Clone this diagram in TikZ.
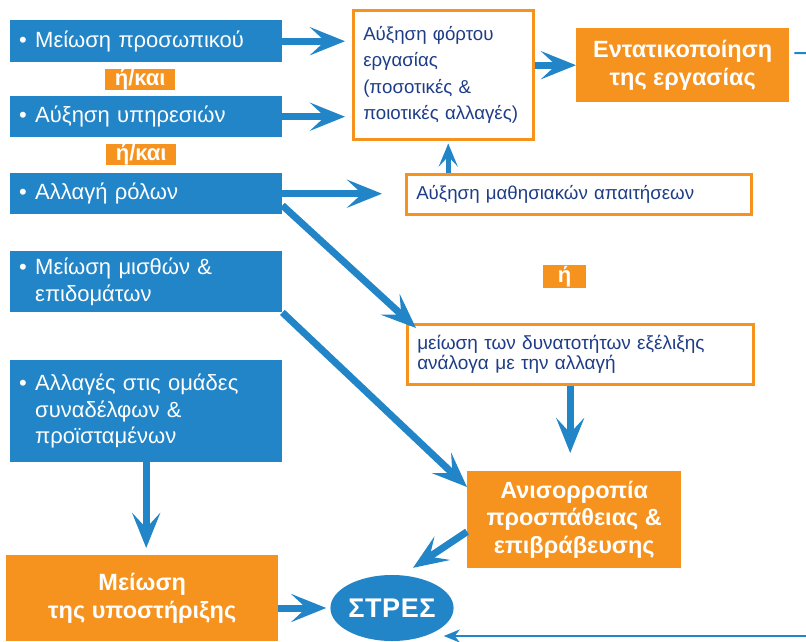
\documentclass[tikz,border=0pt]{standalone}
\usepackage{fontspec}
\setmainfont{Liberation Sans}
\usepackage{tikz}
\usetikzlibrary{arrows.meta, calc, shapes.geometric}
\definecolor{stressblue}{HTML}{2185C8}
\definecolor{stressorange}{HTML}{F6921E}
\definecolor{navytext}{HTML}{1F3D87}
\newcommand{\bul}{\makebox[16pt][l]{\textbullet}}
\newcommand{\ind}{\hspace*{16pt}}

\tikzset{
  cause/.style={fill=stressblue, text=white, anchor=north west, align=left,
    inner xsep=9pt, inner ysep=0pt, text width=254pt,
    font=\fontsize{22}{26.5}\selectfont},
  effect/.style={draw=stressorange, line width=2.5pt, fill=white, text=navytext,
    anchor=north west, align=left, inner xsep=10pt, inner ysep=0pt,
    font=\fontsize{18.7}{26.5}\selectfont},
  result/.style={fill=stressorange, text=white, anchor=north west, align=center,
    inner sep=0pt, font=\bfseries\fontsize{23.5}{27.5}\selectfont},
  tag/.style={fill=stressorange, text=white, anchor=north west, inner sep=0pt,
    font=\bfseries\fontsize{22}{22}\selectfont},
  flow/.style={draw=stressblue, line width=7pt,
    -{Stealth[length=35pt,width=28pt,inset=15pt]}},
  flowsmall/.style={draw=stressblue, line width=4.5pt,
    -{Stealth[length=23pt,width=19pt,inset=10pt]}},
  feed/.style={draw=stressblue, line width=2pt}
}

\begin{document}
\begin{tikzpicture}[x=1pt, y=-1pt]
  \useasboundingbox (0,0) rectangle (806,641);

  % Αιτίες
  \node[cause, minimum height=42pt] (staff) at (10,20) {\bul Μείωση προσωπικού};
  \node[cause, minimum height=41pt] (services) at (10,96) {\bul Αύξηση υπηρεσιών};
  \node[cause, minimum height=41pt] (roles) at (10,173) {\bul Αλλαγή ρόλων};
  \node[cause, minimum height=61pt] (salary) at (10,251)
    {\bul Μείωση μισθών \&\\\ind επιδομάτων};
  \node[cause, minimum height=102pt] (teams) at (10,360)
    {\bul Αλλαγές στις ομάδες\\\ind συναδέλφων \&\\\ind προϊσταμένων};

  % ή/και
  \node[tag, minimum width=70pt, minimum height=21pt] (or1) at (105,69) {ή/και};
  \node[tag, minimum width=70pt, minimum height=21pt] (or2) at (106,144) {ή/και};
  \node[tag, minimum width=43pt, minimum height=23pt] (or3) at (543,265) {ή};

  % Επιπτώσεις
  \node[effect, text width=160pt, minimum height=129pt] (load) at (352,9)
    {Αύξηση φόρτου\\εργασίας\\(ποσοτικές \&\\ποιοτικές αλλαγές)};
  \node[effect, text width=325pt, minimum height=40pt] (learn) at (405,173)
    {Αύξηση μαθησιακών απαιτήσεων};
  \node[effect, text width=326pt, minimum height=60pt,
    font=\fontsize{19}{20.5}\selectfont] (career) at (406,323)
    {μείωση των δυνατοτήτων εξέλιξης\\ανάλογα με την αλλαγή};

  % Αποτελέσματα
  \node[result, minimum width=213pt, minimum height=74pt] (intensity) at (576,28)
    {Εντατικοποίηση\\της εργασίας};
  \node[result, minimum width=214pt, minimum height=97pt] (imbalance) at (467,471)
    {Ανισορροπία\\προσπάθειας \&\\επιβράβευσης};
  \node[result, minimum width=272pt, minimum height=86pt] (support) at (6,555)
    {Μείωση\\της υποστήριξης};

  % ΣΤΡΕΣ
  \node[ellipse, fill=stressblue, text=white, inner sep=0pt, minimum width=110pt,
    minimum height=66pt, font=\bfseries\fontsize{27}{30}\selectfont] (stress)
    at (392,608) {\addfontfeature{LetterSpace=2}ΣΤΡΕΣ};

  % Βέλη
  \draw[flow, shorten >=7pt] (staff.east) -- (staff.east -| load.west);
  \draw[flow, shorten >=7pt] (services.east) -- (services.east -| load.west);
  \draw[flow, shorten >=23pt] (roles.east) -- (roles.east -| learn.west);
  \draw[flowsmall, shorten >=3pt] ([xshift=5pt]load.south |- learn.north) -- ([xshift=5pt]load.south);
  \draw[flow] (load.east |- intensity.west) -- (intensity.west);
  \draw[flow] ([yshift=9pt]roles.south east) -- ([xshift=10pt,yshift=-5pt]career.north west);
  \draw[flow] (salary.south east) -- ([yshift=-16pt]imbalance.north west);
  \draw[flow, shorten >=18pt] ([xshift=-4pt]career.south -| imbalance.north)
    -- ([xshift=-4pt]imbalance.north);
  \draw[flow] ([yshift=-12pt]imbalance.west) -- ([xshift=21pt,yshift=7pt]stress.north);
  \draw[flow, shorten >=7pt] (teams.south) -- (teams.south |- support.north);
  \draw[flow, shorten >=4pt] (support.east |- stress.west) -- (stress.west);

  % Ανατροφοδότηση
  \coordinate (loopout) at (806,53);
  \coordinate (loopin) at (806,636);
  \draw[feed] ([xshift=5pt,yshift=12pt]intensity.east) -- (loopout);
  \draw[feed, -{Stealth[length=16pt,width=13pt,inset=5pt]}] (loopin)
    -- ($(loopin -| stress.east)+(-10,0)$);
\end{tikzpicture}
\end{document}
